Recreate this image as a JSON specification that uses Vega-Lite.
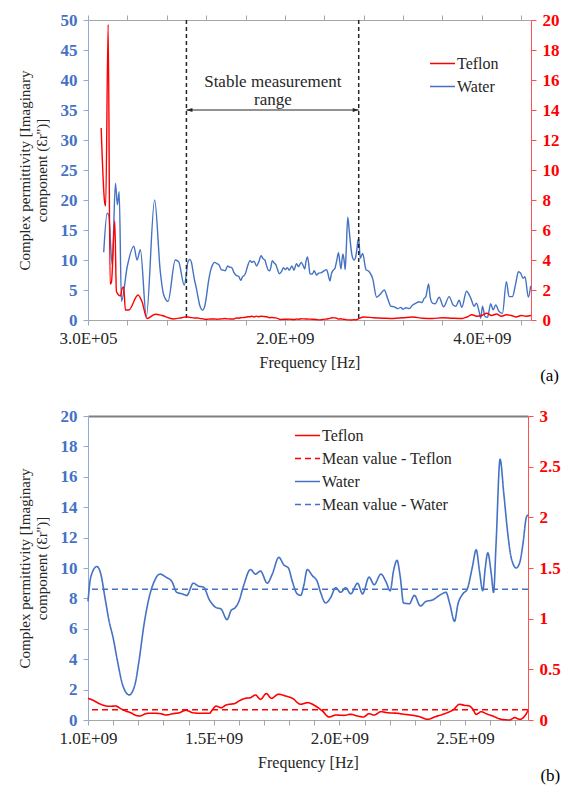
{
  "$schema": "https://vega.github.io/schema/vega-lite/v6.json",
  "background": "white",
  "padding": {"left": 17, "top": 11, "right": 5, "bottom": 5},
  "config": {
    "font": "Liberation Serif",
    "view": {"stroke": null},
    "axis": {
      "grid": false,
      "labelOverlap": false,
      "labelFont": "Liberation Serif",
      "titleFont": "Liberation Serif",
      "labelFontSize": 17,
      "titleFontSize": 15,
      "titleFontWeight": "normal",
      "labelColor": "#262626",
      "titleColor": "#262626",
      "tickSize": 5,
      "domainColor": "#A6A6A6",
      "tickColor": "#A6A6A6"
    },
    "axisX": {"labelPadding": 5, "titlePadding": 8, "titleFontSize": 16},
    "axisY": {"labelOverlap": false, "labelFontSize": 17, "labelPadding": 6, "titlePadding": 11},
    "legend": {
      "title": null,
      "orient": "none",
      "symbolType": "stroke",
      "symbolSize": 625,
      "symbolStrokeWidth": 1.5,
      "labelFont": "Liberation Serif",
      "labelFontSize": 16,
      "labelColor": "#262626",
      "rowPadding": 1,
      "labelOffset": 1,
      "padding": 0
    }
  },
  "datasets": {
    "spectrum": [
      {"series": "Water", "freq": 1.6e8, "value": 11.3},
      {"series": "Water", "freq": 1.95e8, "value": 17.8},
      {"series": "Water", "freq": 2.11e8, "value": 17.5},
      {"series": "Water", "freq": 2.46e8, "value": 9.2},
      {"series": "Water", "freq": 2.79e8, "value": 22.8},
      {"series": "Water", "freq": 2.99e8, "value": 19.2},
      {"series": "Water", "freq": 3.17e8, "value": 21.4},
      {"series": "Water", "freq": 3.4e8, "value": 3.1},
      {"series": "Water", "freq": 4.0e8, "value": 9.0},
      {"series": "Water", "freq": 4.65e8, "value": 12.3},
      {"series": "Water", "freq": 4.99e8, "value": 10.0},
      {"series": "Water", "freq": 5.32e8, "value": 11.7},
      {"series": "Water", "freq": 5.93e8, "value": 0.6},
      {"series": "Water", "freq": 6.77e8, "value": 20.0},
      {"series": "Water", "freq": 7.35e8, "value": 8.0},
      {"series": "Water", "freq": 7.69e8, "value": 4.2},
      {"series": "Water", "freq": 8.13e8, "value": 3.1},
      {"series": "Water", "freq": 8.87e8, "value": 10.0},
      {"series": "Water", "freq": 9.21e8, "value": 9.7},
      {"series": "Water", "freq": 9.78e8, "value": 5.8},
      {"series": "Water", "freq": 1.0e9, "value": 7.8},
      {"series": "Water", "freq": 1.011e9, "value": 9.4},
      {"series": "Water", "freq": 1.035e9, "value": 10.1},
      {"series": "Water", "freq": 1.051e9, "value": 9.6},
      {"series": "Water", "freq": 1.068e9, "value": 8.0},
      {"series": "Water", "freq": 1.084e9, "value": 6.5},
      {"series": "Water", "freq": 1.1e9, "value": 5.4},
      {"series": "Water", "freq": 1.117e9, "value": 3.9},
      {"series": "Water", "freq": 1.137e9, "value": 2.35},
      {"series": "Water", "freq": 1.164e9, "value": 1.65},
      {"series": "Water", "freq": 1.187e9, "value": 2.35},
      {"series": "Water", "freq": 1.203e9, "value": 3.9},
      {"series": "Water", "freq": 1.223e9, "value": 6.3},
      {"series": "Water", "freq": 1.243e9, "value": 8.05},
      {"series": "Water", "freq": 1.263e9, "value": 9.1},
      {"series": "Water", "freq": 1.286e9, "value": 9.6},
      {"series": "Water", "freq": 1.31e9, "value": 9.4},
      {"series": "Water", "freq": 1.334e9, "value": 9.1},
      {"series": "Water", "freq": 1.353e9, "value": 8.4},
      {"series": "Water", "freq": 1.374e9, "value": 8.3},
      {"series": "Water", "freq": 1.393e9, "value": 8.2},
      {"series": "Water", "freq": 1.419e9, "value": 9.0},
      {"series": "Water", "freq": 1.44e9, "value": 8.8},
      {"series": "Water", "freq": 1.459e9, "value": 8.75},
      {"series": "Water", "freq": 1.483e9, "value": 7.9},
      {"series": "Water", "freq": 1.509e9, "value": 7.4},
      {"series": "Water", "freq": 1.529e9, "value": 7.3},
      {"series": "Water", "freq": 1.553e9, "value": 6.6},
      {"series": "Water", "freq": 1.569e9, "value": 7.2},
      {"series": "Water", "freq": 1.586e9, "value": 7.4},
      {"series": "Water", "freq": 1.6e9, "value": 7.8},
      {"series": "Water", "freq": 1.62e9, "value": 8.9},
      {"series": "Water", "freq": 1.646e9, "value": 9.9},
      {"series": "Water", "freq": 1.666e9, "value": 9.6},
      {"series": "Water", "freq": 1.686e9, "value": 9.8},
      {"series": "Water", "freq": 1.713e9, "value": 9.0},
      {"series": "Water", "freq": 1.733e9, "value": 9.6},
      {"series": "Water", "freq": 1.759e9, "value": 10.7},
      {"series": "Water", "freq": 1.779e9, "value": 10.2},
      {"series": "Water", "freq": 1.797e9, "value": 10.0},
      {"series": "Water", "freq": 1.813e9, "value": 9.1},
      {"series": "Water", "freq": 1.832e9, "value": 8.3},
      {"series": "Water", "freq": 1.846e9, "value": 8.2},
      {"series": "Water", "freq": 1.859e9, "value": 8.9},
      {"series": "Water", "freq": 1.872e9, "value": 9.9},
      {"series": "Water", "freq": 1.892e9, "value": 9.5},
      {"series": "Water", "freq": 1.912e9, "value": 9.1},
      {"series": "Water", "freq": 1.925e9, "value": 8.4},
      {"series": "Water", "freq": 1.945e9, "value": 7.7},
      {"series": "Water", "freq": 1.965e9, "value": 8.05},
      {"series": "Water", "freq": 1.985e9, "value": 8.7},
      {"series": "Water", "freq": 2.005e9, "value": 8.4},
      {"series": "Water", "freq": 2.025e9, "value": 8.7},
      {"series": "Water", "freq": 2.045e9, "value": 8.3},
      {"series": "Water", "freq": 2.072e9, "value": 9.0},
      {"series": "Water", "freq": 2.092e9, "value": 8.3},
      {"series": "Water", "freq": 2.118e9, "value": 9.4},
      {"series": "Water", "freq": 2.138e9, "value": 8.9},
      {"series": "Water", "freq": 2.165e9, "value": 9.6},
      {"series": "Water", "freq": 2.185e9, "value": 9.1},
      {"series": "Water", "freq": 2.202e9, "value": 8.5},
      {"series": "Water", "freq": 2.215e9, "value": 9.8},
      {"series": "Water", "freq": 2.229e9, "value": 10.5},
      {"series": "Water", "freq": 2.242e9, "value": 9.4},
      {"series": "Water", "freq": 2.255e9, "value": 7.7},
      {"series": "Water", "freq": 2.278e9, "value": 7.65},
      {"series": "Water", "freq": 2.298e9, "value": 8.2},
      {"series": "Water", "freq": 2.322e9, "value": 7.5},
      {"series": "Water", "freq": 2.344e9, "value": 7.8},
      {"series": "Water", "freq": 2.371e9, "value": 7.9},
      {"series": "Water", "freq": 2.398e9, "value": 8.2},
      {"series": "Water", "freq": 2.424e9, "value": 8.4},
      {"series": "Water", "freq": 2.438e9, "value": 7.7},
      {"series": "Water", "freq": 2.458e9, "value": 6.5},
      {"series": "Water", "freq": 2.471e9, "value": 7.6},
      {"series": "Water", "freq": 2.491e9, "value": 8.3},
      {"series": "Water", "freq": 2.508e9, "value": 8.6},
      {"series": "Water", "freq": 2.528e9, "value": 10.0},
      {"series": "Water", "freq": 2.544e9, "value": 11.2},
      {"series": "Water", "freq": 2.557e9, "value": 9.8},
      {"series": "Water", "freq": 2.57e9, "value": 8.5},
      {"series": "Water", "freq": 2.58e9, "value": 10.0},
      {"series": "Water", "freq": 2.59e9, "value": 11.0},
      {"series": "Water", "freq": 2.604e9, "value": 9.6},
      {"series": "Water", "freq": 2.613e9, "value": 8.4},
      {"series": "Water", "freq": 2.623e9, "value": 11.6},
      {"series": "Water", "freq": 2.639e9, "value": 17.15},
      {"series": "Water", "freq": 2.654e9, "value": 14.85},
      {"series": "Water", "freq": 2.67e9, "value": 12.2},
      {"series": "Water", "freq": 2.683e9, "value": 10.7},
      {"series": "Water", "freq": 2.703e9, "value": 10.0},
      {"series": "Water", "freq": 2.717e9, "value": 10.35},
      {"series": "Water", "freq": 2.73e9, "value": 11.6},
      {"series": "Water", "freq": 2.743e9, "value": 13.3},
      {"series": "Water", "freq": 2.75e9, "value": 13.5},
      {"series": "Water", "freq": 2.766e9, "value": 10.3},
      {"series": "Water", "freq": 2.79e9, "value": 11.1},
      {"series": "Water", "freq": 2.824e9, "value": 8.4},
      {"series": "Water", "freq": 2.857e9, "value": 8.05},
      {"series": "Water", "freq": 2.892e9, "value": 6.9},
      {"series": "Water", "freq": 2.932e9, "value": 3.8},
      {"series": "Water", "freq": 2.969e9, "value": 4.3},
      {"series": "Water", "freq": 3.009e9, "value": 5.0},
      {"series": "Water", "freq": 3.044e9, "value": 3.6},
      {"series": "Water", "freq": 3.077e9, "value": 2.3},
      {"series": "Water", "freq": 3.111e9, "value": 2.2},
      {"series": "Water", "freq": 3.145e9, "value": 1.9},
      {"series": "Water", "freq": 3.179e9, "value": 2.1},
      {"series": "Water", "freq": 3.199e9, "value": 1.8},
      {"series": "Water", "freq": 3.23e9, "value": 2.05},
      {"series": "Water", "freq": 3.263e9, "value": 1.9},
      {"series": "Water", "freq": 3.298e9, "value": 2.5},
      {"series": "Water", "freq": 3.331e9, "value": 2.8},
      {"series": "Water", "freq": 3.365e9, "value": 3.05},
      {"series": "Water", "freq": 3.392e9, "value": 2.9},
      {"series": "Water", "freq": 3.415e9, "value": 3.6},
      {"series": "Water", "freq": 3.432e9, "value": 3.9},
      {"series": "Water", "freq": 3.46e9, "value": 6.0},
      {"series": "Water", "freq": 3.476e9, "value": 3.8},
      {"series": "Water", "freq": 3.5e9, "value": 2.8},
      {"series": "Water", "freq": 3.527e9, "value": 2.7},
      {"series": "Water", "freq": 3.567e9, "value": 3.8},
      {"series": "Water", "freq": 3.612e9, "value": 2.2},
      {"series": "Water", "freq": 3.669e9, "value": 3.9},
      {"series": "Water", "freq": 3.709e9, "value": 2.5},
      {"series": "Water", "freq": 3.737e9, "value": 2.3},
      {"series": "Water", "freq": 3.77e9, "value": 3.3},
      {"series": "Water", "freq": 3.797e9, "value": 2.1},
      {"series": "Water", "freq": 3.845e9, "value": 4.8},
      {"series": "Water", "freq": 3.889e9, "value": 3.6},
      {"series": "Water", "freq": 3.922e9, "value": 2.3},
      {"series": "Water", "freq": 3.946e9, "value": 2.8},
      {"series": "Water", "freq": 3.973e9, "value": 1.4},
      {"series": "Water", "freq": 3.99e9, "value": 0.3},
      {"series": "Water", "freq": 4.007e9, "value": 2.3},
      {"series": "Water", "freq": 4.033e9, "value": 0.55},
      {"series": "Water", "freq": 4.058e9, "value": 0.45},
      {"series": "Water", "freq": 4.091e9, "value": 2.7},
      {"series": "Water", "freq": 4.115e9, "value": 1.7},
      {"series": "Water", "freq": 4.142e9, "value": 2.5},
      {"series": "Water", "freq": 4.176e9, "value": 1.4},
      {"series": "Water", "freq": 4.21e9, "value": 1.1},
      {"series": "Water", "freq": 4.25e9, "value": 6.4},
      {"series": "Water", "freq": 4.277e9, "value": 3.9},
      {"series": "Water", "freq": 4.311e9, "value": 3.9},
      {"series": "Water", "freq": 4.345e9, "value": 6.1},
      {"series": "Water", "freq": 4.372e9, "value": 8.05},
      {"series": "Water", "freq": 4.395e9, "value": 7.8},
      {"series": "Water", "freq": 4.419e9, "value": 6.95},
      {"series": "Water", "freq": 4.439e9, "value": 7.2},
      {"series": "Water", "freq": 4.473e9, "value": 3.8},
      {"series": "Water", "freq": 4.497e9, "value": 5.7},

      {"series": "Teflon", "freq": 1.34e8, "value": 12.8},
      {"series": "Teflon", "freq": 1.7e8, "value": 7.8},
      {"series": "Teflon", "freq": 1.8e8, "value": 7.6},
      {"series": "Teflon", "freq": 2.05e8, "value": 19.7},
      {"series": "Teflon", "freq": 2.25e8, "value": 2.4},
      {"series": "Teflon", "freq": 2.38e8, "value": 2.5},
      {"series": "Teflon", "freq": 2.72e8, "value": 6.6},
      {"series": "Teflon", "freq": 2.89e8, "value": 1.9},
      {"series": "Teflon", "freq": 3.3e8, "value": 1.6},
      {"series": "Teflon", "freq": 3.47e8, "value": 2.1},
      {"series": "Teflon", "freq": 3.63e8, "value": 2.2},
      {"series": "Teflon", "freq": 3.8e8, "value": 0.67},
      {"series": "Teflon", "freq": 4.14e8, "value": 0.67},
      {"series": "Teflon", "freq": 5.09e8, "value": 1.67},
      {"series": "Teflon", "freq": 5.5e8, "value": 1.2},
      {"series": "Teflon", "freq": 6.0e8, "value": 0.1},
      {"series": "Teflon", "freq": 6.85e8, "value": 0.38},
      {"series": "Teflon", "freq": 7.52e8, "value": 0.3},
      {"series": "Teflon", "freq": 8.7e8, "value": 0.07},
      {"series": "Teflon", "freq": 9.5e8, "value": 0.15},
      {"series": "Teflon", "freq": 1.0e9, "value": 0.214},
      {"series": "Teflon", "freq": 1.018e9, "value": 0.197},
      {"series": "Teflon", "freq": 1.051e9, "value": 0.155},
      {"series": "Teflon", "freq": 1.084e9, "value": 0.135},
      {"series": "Teflon", "freq": 1.11e9, "value": 0.138},
      {"series": "Teflon", "freq": 1.13e9, "value": 0.112},
      {"series": "Teflon", "freq": 1.15e9, "value": 0.089},
      {"series": "Teflon", "freq": 1.17e9, "value": 0.072},
      {"series": "Teflon", "freq": 1.19e9, "value": 0.046},
      {"series": "Teflon", "freq": 1.207e9, "value": 0.039},
      {"series": "Teflon", "freq": 1.223e9, "value": 0.056},
      {"series": "Teflon", "freq": 1.243e9, "value": 0.066},
      {"series": "Teflon", "freq": 1.27e9, "value": 0.066},
      {"series": "Teflon", "freq": 1.29e9, "value": 0.062},
      {"series": "Teflon", "freq": 1.31e9, "value": 0.049},
      {"series": "Teflon", "freq": 1.337e9, "value": 0.062},
      {"series": "Teflon", "freq": 1.363e9, "value": 0.072},
      {"series": "Teflon", "freq": 1.39e9, "value": 0.096},
      {"series": "Teflon", "freq": 1.416e9, "value": 0.072},
      {"series": "Teflon", "freq": 1.45e9, "value": 0.066},
      {"series": "Teflon", "freq": 1.483e9, "value": 0.066},
      {"series": "Teflon", "freq": 1.496e9, "value": 0.105},
      {"series": "Teflon", "freq": 1.509e9, "value": 0.138},
      {"series": "Teflon", "freq": 1.529e9, "value": 0.121},
      {"series": "Teflon", "freq": 1.549e9, "value": 0.148},
      {"series": "Teflon", "freq": 1.586e9, "value": 0.165},
      {"series": "Teflon", "freq": 1.6e9, "value": 0.187},
      {"series": "Teflon", "freq": 1.626e9, "value": 0.214},
      {"series": "Teflon", "freq": 1.646e9, "value": 0.22},
      {"series": "Teflon", "freq": 1.666e9, "value": 0.247},
      {"series": "Teflon", "freq": 1.686e9, "value": 0.204},
      {"series": "Teflon", "freq": 1.709e9, "value": 0.26},
      {"series": "Teflon", "freq": 1.73e9, "value": 0.214},
      {"series": "Teflon", "freq": 1.757e9, "value": 0.254},
      {"series": "Teflon", "freq": 1.786e9, "value": 0.237},
      {"series": "Teflon", "freq": 1.813e9, "value": 0.214},
      {"series": "Teflon", "freq": 1.846e9, "value": 0.155},
      {"series": "Teflon", "freq": 1.872e9, "value": 0.171},
      {"series": "Teflon", "freq": 1.905e9, "value": 0.138},
      {"series": "Teflon", "freq": 1.932e9, "value": 0.089},
      {"series": "Teflon", "freq": 1.959e9, "value": 0.03},
      {"series": "Teflon", "freq": 1.985e9, "value": 0.049},
      {"series": "Teflon", "freq": 2.019e9, "value": 0.046},
      {"series": "Teflon", "freq": 2.045e9, "value": 0.056},
      {"series": "Teflon", "freq": 2.072e9, "value": 0.039},
      {"series": "Teflon", "freq": 2.095e9, "value": 0.03},
      {"series": "Teflon", "freq": 2.118e9, "value": 0.062},
      {"series": "Teflon", "freq": 2.138e9, "value": 0.049},
      {"series": "Teflon", "freq": 2.165e9, "value": 0.082},
      {"series": "Teflon", "freq": 2.191e9, "value": 0.072},
      {"series": "Teflon", "freq": 2.231e9, "value": 0.066},
      {"series": "Teflon", "freq": 2.258e9, "value": 0.056},
      {"series": "Teflon", "freq": 2.284e9, "value": 0.049},
      {"series": "Teflon", "freq": 2.318e9, "value": 0.033},
      {"series": "Teflon", "freq": 2.351e9, "value": 0.007},
      {"series": "Teflon", "freq": 2.378e9, "value": 0.03},
      {"series": "Teflon", "freq": 2.411e9, "value": 0.056},
      {"series": "Teflon", "freq": 2.438e9, "value": 0.082},
      {"series": "Teflon", "freq": 2.455e9, "value": 0.105},
      {"series": "Teflon", "freq": 2.477e9, "value": 0.155},
      {"series": "Teflon", "freq": 2.497e9, "value": 0.145},
      {"series": "Teflon", "freq": 2.517e9, "value": 0.138},
      {"series": "Teflon", "freq": 2.531e9, "value": 0.105},
      {"series": "Teflon", "freq": 2.544e9, "value": 0.056},
      {"series": "Teflon", "freq": 2.564e9, "value": 0.082},
      {"series": "Teflon", "freq": 2.584e9, "value": 0.062},
      {"series": "Teflon", "freq": 2.61e9, "value": 0.039},
      {"series": "Teflon", "freq": 2.643e9, "value": 0.007},
      {"series": "Teflon", "freq": 2.677e9, "value": 0.0},
      {"series": "Teflon", "freq": 2.697e9, "value": 0.023},
      {"series": "Teflon", "freq": 2.717e9, "value": 0.007},
      {"series": "Teflon", "freq": 2.737e9, "value": 0.039},
      {"series": "Teflon", "freq": 2.75e9, "value": 0.092},
      {"series": "Teflon", "freq": 2.8e9, "value": 0.2},
      {"series": "Teflon", "freq": 2.9e9, "value": 0.15},
      {"series": "Teflon", "freq": 3.0e9, "value": 0.12},
      {"series": "Teflon", "freq": 3.1e9, "value": 0.1},
      {"series": "Teflon", "freq": 3.2e9, "value": 0.15},
      {"series": "Teflon", "freq": 3.3e9, "value": 0.2},
      {"series": "Teflon", "freq": 3.4e9, "value": 0.12},
      {"series": "Teflon", "freq": 3.5e9, "value": 0.1},
      {"series": "Teflon", "freq": 3.6e9, "value": 0.15},
      {"series": "Teflon", "freq": 3.7e9, "value": 0.12},
      {"series": "Teflon", "freq": 3.8e9, "value": 0.1},
      {"series": "Teflon", "freq": 3.85e9, "value": 0.2},
      {"series": "Teflon", "freq": 3.9e9, "value": 0.35},
      {"series": "Teflon", "freq": 3.95e9, "value": 0.25},
      {"series": "Teflon", "freq": 4.0e9, "value": 0.3},
      {"series": "Teflon", "freq": 4.05e9, "value": 0.45},
      {"series": "Teflon", "freq": 4.1e9, "value": 0.3},
      {"series": "Teflon", "freq": 4.15e9, "value": 0.4},
      {"series": "Teflon", "freq": 4.2e9, "value": 0.25},
      {"series": "Teflon", "freq": 4.25e9, "value": 0.35},
      {"series": "Teflon", "freq": 4.3e9, "value": 0.3},
      {"series": "Teflon", "freq": 4.35e9, "value": 0.2},
      {"series": "Teflon", "freq": 4.4e9, "value": 0.3},
      {"series": "Teflon", "freq": 4.45e9, "value": 0.25},
      {"series": "Teflon", "freq": 4.5e9, "value": 0.3}
    ],
    "means": [
      {"series": "Mean value - Teflon", "mean": 0.1},
      {"series": "Mean value - Water", "mean": 8.6}
    ]
  },
  "spacing": 23,
  "resolve": {
    "scale": {"x": "independent", "y": "independent", "color": "independent", "strokeDash": "independent"},
    "legend": {"color": "independent", "strokeDash": "independent"}
  },
  "vconcat": [
    {
      "width": 443,
      "height": 300,
      "title": {"text": "(a)", "orient": "bottom", "anchor": "end", "frame": "bounds", "offset": -2, "fontSize": 17, "fontWeight": "normal", "font": "Liberation Serif", "color": "#000000"},
      "layer": [
        {
          "layer": [
            {
              "data": {"name": "spectrum"},
              "transform": [{"filter": "datum.series === 'Water'"}],
              "mark": {"type": "line", "strokeWidth": 1.4, "interpolate": "monotone"},
              "encoding": {
                "x": {
                  "field": "freq", "type": "quantitative",
                  "scale": {"domain": [300000, 4500000000], "nice": false, "zero": false},
                  "axis": {
                    "orient": "bottom", "title": "Frequency [Hz]",
                    "values": [300000, 400300000, 800300000, 1200300000, 1600300000, 2000300000, 2400300000, 2800300000, 3200300000, 3600300000, 4000300000, 4400300000],
                    "labelExpr": "datum.value < 1e6 ? '3.0E+05' : datum.value == 2000300000 ? '2.0E+09' : datum.value == 4000300000 ? '4.0E+09' : ''",
                    "labelOverlap": false, "labelFlush": false, "labelBound": false
                  }
                },
                "y": {
                  "field": "value", "type": "quantitative",
                  "scale": {"domain": [0, 50], "nice": false},
                  "axis": {
                    "orient": "left",
                    "values": [0, 5, 10, 15, 20, 25, 30, 35, 40, 45, 50],
                    "title": ["Complex permittivity [Imaginary", "component (Ɛr'')]"],
                    "labelOverlap": false,
                    "labelFontWeight": "bold", "labelColor": "#4472C4",
                    "domainColor": "#8FAADC", "tickColor": "#8FAADC"
                  }
                },
                "color": {
                  "field": "series", "type": "nominal",
                  "scale": {"domain": ["Teflon", "Water"], "range": ["#FF0000", "#4472C4"]},
                  "legend": {"legendX": 341, "legendY": 30}
                }
              }
            },
            {
              "data": {"values": [{"freq": 1.0e9}, {"freq": 2.75e9}]},
              "mark": {"type": "rule", "color": "#262626", "strokeWidth": 1.5, "strokeDash": [4, 3]},
              "encoding": {"x": {"field": "freq", "type": "quantitative"}}
            },
            {
              "data": {"values": [{"start": 1.0e9, "end": 2.75e9, "level": 35, "label": "Stable measurement\nrange", "labelLevel": 39.6, "labelFreq": 1.878e9}]},
              "layer": [
                {
                  "mark": {"type": "rule", "color": "#262626", "strokeWidth": 1},
                  "encoding": {
                    "x": {"field": "start", "type": "quantitative"},
                    "x2": {"field": "end"},
                    "y": {
                      "field": "level", "type": "quantitative",
                      "axis": {
                        "orient": "left",
                        "values": [0, 5, 10, 15, 20, 25, 30, 35, 40, 45, 50],
                        "title": ["Complex permittivity [Imaginary", "component (Ɛr'')]"],
                        "labelOverlap": false,
                        "labelFontWeight": "bold", "labelColor": "#4472C4",
                        "domainColor": "#8FAADC", "tickColor": "#8FAADC"
                      }
                    }
                  }
                },
                {
                  "mark": {"type": "point", "filled": true, "color": "#262626", "opacity": 1, "size": 144, "shape": "M0,0L1,-0.35L1,0.35Z"},
                  "encoding": {
                    "x": {"field": "start", "type": "quantitative"},
                    "y": {
                      "field": "level", "type": "quantitative",
                      "axis": {
                        "orient": "left",
                        "values": [0, 5, 10, 15, 20, 25, 30, 35, 40, 45, 50],
                        "title": ["Complex permittivity [Imaginary", "component (Ɛr'')]"],
                        "labelOverlap": false,
                        "labelFontWeight": "bold", "labelColor": "#4472C4",
                        "domainColor": "#8FAADC", "tickColor": "#8FAADC"
                      }
                    }
                  }
                },
                {
                  "mark": {"type": "point", "filled": true, "color": "#262626", "opacity": 1, "size": 144, "shape": "M0,0L-1,-0.35L-1,0.35Z"},
                  "encoding": {
                    "x": {"field": "end", "type": "quantitative"},
                    "y": {
                      "field": "level", "type": "quantitative",
                      "axis": {
                        "orient": "left",
                        "values": [0, 5, 10, 15, 20, 25, 30, 35, 40, 45, 50],
                        "title": ["Complex permittivity [Imaginary", "component (Ɛr'')]"],
                        "labelOverlap": false,
                        "labelFontWeight": "bold", "labelColor": "#4472C4",
                        "domainColor": "#8FAADC", "tickColor": "#8FAADC"
                      }
                    }
                  }
                },
                {
                  "mark": {"type": "text", "lineBreak": "\n", "fontSize": 17, "lineHeight": 18, "align": "center", "baseline": "middle", "color": "#262626", "font": "Liberation Serif"},
                  "encoding": {
                    "x": {"field": "labelFreq", "type": "quantitative"},
                    "y": {
                      "field": "labelLevel", "type": "quantitative",
                      "axis": {
                        "orient": "left",
                        "values": [0, 5, 10, 15, 20, 25, 30, 35, 40, 45, 50],
                        "title": ["Complex permittivity [Imaginary", "component (Ɛr'')]"],
                        "labelOverlap": false,
                        "labelFontWeight": "bold", "labelColor": "#4472C4",
                        "domainColor": "#8FAADC", "tickColor": "#8FAADC"
                      }
                    },
                    "text": {"field": "label"}
                  }
                }
              ]
            }
          ]
        },
        {
          "data": {"name": "spectrum"},
          "transform": [{"filter": "datum.series === 'Teflon'"}],
          "mark": {"type": "line", "strokeWidth": 1.4, "interpolate": "monotone"},
          "encoding": {
            "x": {
              "field": "freq", "type": "quantitative",
              "axis": {
                "orient": "top", "labels": false, "title": null,
                "values": [300000, 400300000, 800300000, 1200300000, 1600300000, 2000300000, 2400300000, 2800300000, 3200300000, 3600300000, 4000300000, 4400300000]
              }
            },
            "y": {
              "field": "value", "type": "quantitative",
              "scale": {"domain": [0, 20], "nice": false},
              "axis": {
                "orient": "right", "title": null,
                "values": [0, 2, 4, 6, 8, 10, 12, 14, 16, 18, 20],
                "labelOverlap": false,
                "labelFontWeight": "bold", "labelColor": "#FF0000",
                "domainColor": "#FF5050", "tickColor": "#FF5050"
              }
            },
            "color": {"field": "series", "type": "nominal"}
          }
        }
      ],
      "resolve": {"scale": {"y": "independent"}}
    },
    {
      "width": 440,
      "height": 304,
      "title": {"text": "(b)", "orient": "bottom", "anchor": "end", "frame": "bounds", "offset": -2, "fontSize": 17, "fontWeight": "normal", "font": "Liberation Serif", "color": "#000000"},
      "layer": [
        {
          "layer": [
            {
              "data": {"name": "spectrum"},
              "transform": [{"filter": "datum.series === 'Water' && datum.freq >= 1e9 && datum.freq <= 2.75e9"}],
              "mark": {"type": "line", "strokeWidth": 1.6, "interpolate": "monotone"},
              "encoding": {
                "x": {
                  "field": "freq", "type": "quantitative",
                  "scale": {"domain": [1000000000, 2750000000], "nice": false, "zero": false},
                  "axis": {
                    "orient": "bottom", "title": "Frequency [Hz]",
                    "values": [1000000000, 1100000000, 1200000000, 1300000000, 1400000000, 1500000000, 1600000000, 1700000000, 1800000000, 1900000000, 2000000000, 2100000000, 2200000000, 2300000000, 2400000000, 2500000000, 2600000000, 2700000000],
                    "labelExpr": "datum.value == 1000000000 ? '1.0E+09' : datum.value == 1500000000 ? '1.5E+09' : datum.value == 2000000000 ? '2.0E+09' : datum.value == 2500000000 ? '2.5E+09' : ''",
                    "labelOverlap": false, "labelFlush": false, "labelBound": false
                  }
                },
                "y": {
                  "field": "value", "type": "quantitative",
                  "scale": {"domain": [0, 20], "nice": false},
                  "axis": {
                    "orient": "left",
                    "values": [0, 2, 4, 6, 8, 10, 12, 14, 16, 18, 20],
                    "title": ["Complex permittivity [Imaginary", "component (Ɛr'')]"],
                    "labelOverlap": false,
                    "labelFontWeight": "bold", "labelColor": "#4472C4",
                    "domainColor": "#8FAADC", "tickColor": "#8FAADC"
                  }
                },
                "color": {
                  "field": "series", "type": "nominal",
                  "scale": {"domain": ["Teflon", "Mean value - Teflon", "Water", "Mean value - Water"], "range": ["#FF0000", "#FF0000", "#4472C4", "#4472C4"]},
                  "legend": {"legendX": 206, "legendY": 6}
                },
                "strokeDash": {
                  "field": "series", "type": "nominal",
                  "scale": {"domain": ["Teflon", "Mean value - Teflon", "Water", "Mean value - Water"], "range": [[1, 0], [6, 4], [1, 0], [6, 4]]},
                  "legend": {"legendX": 206, "legendY": 6}
                }
              }
            },
            {
              "data": {"name": "means"},
              "transform": [{"filter": "datum.series === 'Mean value - Water'"}],
              "mark": {"type": "rule", "strokeWidth": 1.5},
              "encoding": {
                "y": {
                  "field": "mean", "type": "quantitative",
                  "axis": {
                    "orient": "left",
                    "values": [0, 2, 4, 6, 8, 10, 12, 14, 16, 18, 20],
                    "title": ["Complex permittivity [Imaginary", "component (Ɛr'')]"],
                    "labelOverlap": false,
                    "labelFontWeight": "bold", "labelColor": "#4472C4",
                    "domainColor": "#8FAADC", "tickColor": "#8FAADC"
                  }
                },
                "color": {"field": "series", "type": "nominal"},
                "strokeDash": {"field": "series", "type": "nominal"}
              }
            }
          ]
        },
        {
          "layer": [
            {
              "data": {"name": "spectrum"},
              "transform": [{"filter": "datum.series === 'Teflon' && datum.freq >= 1e9 && datum.freq <= 2.75e9"}],
              "mark": {"type": "line", "strokeWidth": 1.6, "interpolate": "monotone"},
              "encoding": {
                "x": {
                  "field": "freq", "type": "quantitative",
                  "axis": {"orient": "top", "labels": false, "ticks": false, "title": null, "domainColor": "#7F7F7F", "domainWidth": 2}
                },
                "y": {
                  "field": "value", "type": "quantitative",
                  "scale": {"domain": [0, 3], "nice": false},
                  "axis": {
                    "orient": "right", "title": null, "format": "~g",
                    "values": [0, 0.5, 1, 1.5, 2, 2.5, 3],
                    "labelOverlap": false,
                    "labelFontWeight": "bold", "labelColor": "#FF0000",
                    "domainColor": "#FF5050", "tickColor": "#FF5050"
                  }
                },
                "color": {"field": "series", "type": "nominal"},
                "strokeDash": {"field": "series", "type": "nominal"}
              }
            },
            {
              "data": {"name": "means"},
              "transform": [{"filter": "datum.series === 'Mean value - Teflon'"}],
              "mark": {"type": "rule", "strokeWidth": 1.5},
              "encoding": {
                "y": {"field": "mean", "type": "quantitative"},
                "color": {"field": "series", "type": "nominal"},
                "strokeDash": {"field": "series", "type": "nominal"}
              }
            }
          ]
        }
      ],
      "resolve": {"scale": {"y": "independent"}}
    }
  ]
}
